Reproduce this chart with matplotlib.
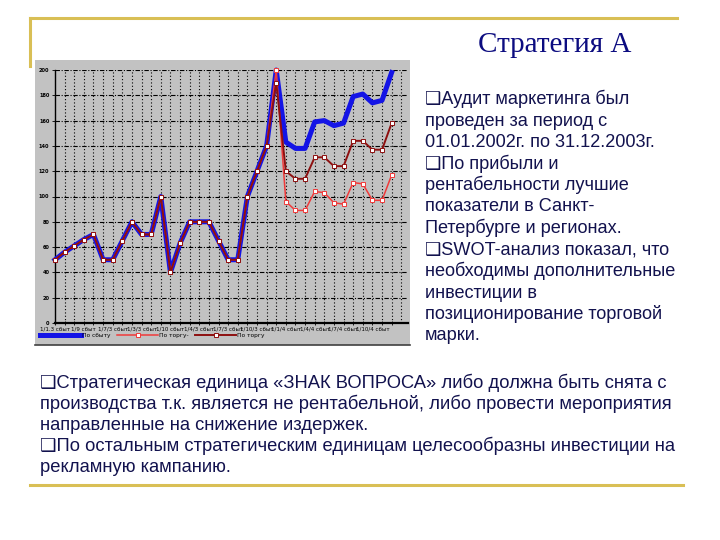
import matplotlib
matplotlib.use("Agg")
import matplotlib.pyplot as plt
from matplotlib.patches import Rectangle
from matplotlib.lines import Line2D

# ---------------- data ----------------
periods = list(range(36))
xlabels = ["1/1.3 сбыт", "1/9 сбыт", "1/7/3 сбыт", "1/3/3 сбыт", "1/10 сбыт", "1/4/3 сбыт",
           "1/7/3 сбыт", "1/10/3 сбыт", "1/1/4 сбыт", "1/4/4 сбыт", "1/7/4 сбыт", "1/10/4 сбыт"]
series_names = ["По сбыту", "По торгу-", "По торгу"]
blue_vals = [50, 56, 61, 66, 70, 50, 50, 65, 80, 70, 70, 100, 40, 63, 80, 80, 80, 65,
             50, 50, 100, 120, 140, 200, 143, 138, 138, 159, 160, 156, 158, 179, 181,
             174, 176, 198]
light_vals = [50, 56, 61, 66, 70, 50, 50, 65, 80, 70, 70, 100, 40, 63, 80, 80, 80, 65,
              50, 50, 100, 120, 140, 200, 96, 89, 89, 104, 103, 95, 94, 111, 110,
              97, 97, 117]
dark_vals = [50, 56, 61, 66, 70, 50, 50, 65, 80, 70, 70, 100, 40, 63, 80, 80, 80, 65,
             50, 50, 100, 120, 140, 190, 120, 114, 114, 131, 131, 124, 124, 144, 144,
             137, 137, 158]
yticks = [0, 20, 40, 60, 80, 100, 120, 140, 160, 180, 200]

title = "Стратегия А"
right_lines = ["❑Аудит маркетинга был", "проведен за период с",
               "01.01.2002г. по 31.12.2003г.", "❑По прибыли и",
               "рентабельности лучшие", "показатели в Санкт-",
               "Петербурге и регионах.", "❑SWOT-анализ показал, что",
               "необходимы дополнительные", "инвестиции в",
               "позиционирование торговой", "марки."]
bottom_lines = ["❑Стратегическая единица «ЗНАК ВОПРОСА» либо должна быть снята с",
                "производства т.к. является не рентабельной, либо провести мероприятия",
                "направленные на снижение издержек.",
                "❑По остальным стратегическим единицам целесообразны инвестиции на",
                "рекламную кампанию."]

# ---------------- figure ----------------
W, H = 720, 540
fig = plt.figure(figsize=(7.2, 5.4), dpi=100)
fig.patch.set_facecolor("white")

def fx(x):
    return x / W

def fy(y):
    return 1 - y / H

# slide frame lines (yellow)
yel = "#d9bf55"
fig.add_artist(Line2D([fx(30), fx(677)], [fy(18), fy(18)], color=yel, lw=2.2))
fig.add_artist(Line2D([fx(30), fx(30)], [fy(18), fy(66)], color=yel, lw=2.2))
fig.add_artist(Line2D([fx(30), fx(683)], [fy(485), fy(485)], color=yel, lw=2.2))

# chart panel
fig.add_artist(Rectangle((fx(35), fy(345)), fx(410) - fx(35), fy(60) - fy(345),
                         transform=fig.transFigure, facecolor="#c2c2c2",
                         edgecolor="none", zorder=0))
fig.add_artist(Line2D([fx(35), fx(410)], [fy(345), fy(345)], color="#404040", lw=1.2))

ax = fig.add_axes([fx(55), fy(323), fx(408) - fx(55), fy(70) - fy(323)])
ax.set_facecolor("#c2c2c2")
ax.set_xlim(0, 36.7)
ax.set_ylim(0, 200)

for v in range(1, 37):
    ax.axvline(v, color="black", lw=0.8, ls=(0, (1, 2)), zorder=1)
for v in yticks[1:]:
    ax.axhline(v, color="black", lw=0.8, ls=(0, (4, 1.5, 1, 1.5)), zorder=1)

l1, = ax.plot(periods, blue_vals, color="#1414e6", lw=3.6, zorder=3,
              solid_joinstyle="round", clip_on=False)
l2, = ax.plot(periods, light_vals, color="#f03a3a", lw=1.1, marker="s", ms=2.4,
              mfc="white", mec="#f03a3a", mew=0.7, zorder=4, clip_on=False)
l3, = ax.plot(periods, dark_vals, color="#8e1010", lw=1.4, marker="s", ms=2.4,
              mfc="white", mec="#8e1010", mew=0.7, zorder=5, clip_on=False)

for s in ["top", "right"]:
    ax.spines[s].set_visible(False)
ax.spines["left"].set_linewidth(1.0)
ax.spines["bottom"].set_linewidth(1.6)
ax.set_yticks(yticks)
ax.set_yticklabels([str(v) for v in yticks], fontsize=3.6, fontweight="bold")
ax.set_xticks(periods[::3])
ax.set_xticklabels(xlabels, fontsize=4.0)
ax.set_xticks(periods, minor=True)
ax.tick_params(axis="x", which="both", direction="inout", length=3, width=0.6, pad=1)
ax.tick_params(axis="y", direction="out", length=2, width=0.6, pad=2)

fig.legend([l1, l2, l3], series_names, loc="upper left",
           bbox_to_anchor=(fx(38), fy(331)), ncol=3, fontsize=4.2, frameon=False,
           handlelength=7, columnspacing=1.2, handletextpad=0.1, borderaxespad=0)

# texts
navy = "#12124e"
fam = ["Liberation Sans", "DejaVu Sans"]
fig.text(fx(555), fy(52), title, family=["Liberation Serif", "DejaVu Serif"],
         fontsize=21, color="#0c0c80", ha="center", va="baseline")

y0 = 104
for i, t in enumerate(right_lines):
    fig.text(fx(425), fy(y0 + i * 21.5), t, family=fam, fontsize=13.1, color=navy,
             ha="left", va="baseline")

yb = 388
for i, t in enumerate(bottom_lines):
    fig.text(fx(40), fy(yb + i * 21.1), t, family=fam, fontsize=13.25, color=navy,
             ha="left", va="baseline")

fig.savefig("out.png", dpi=100)
